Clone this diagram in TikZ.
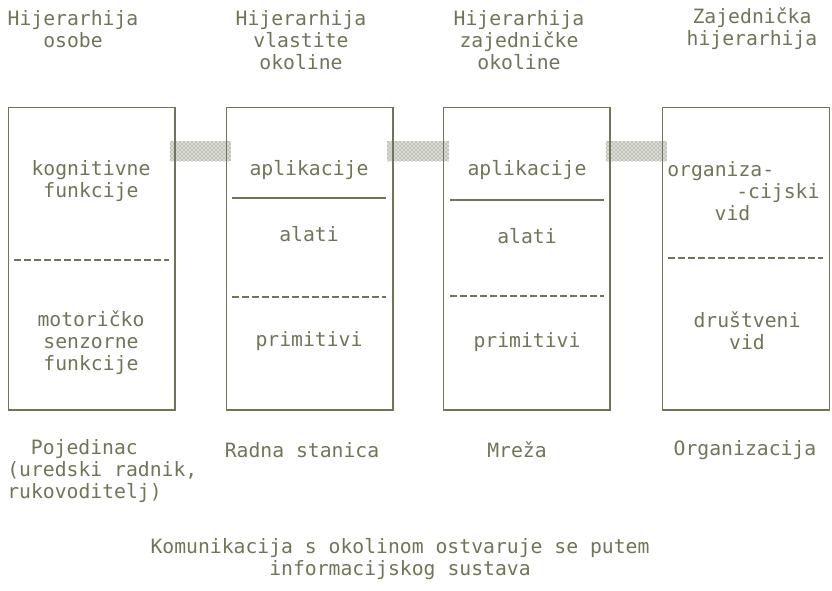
\documentclass[tikz,border=0pt]{standalone}
\usepackage{fontspec}
\newfontfamily\dotfont{DejaVu Sans Mono}
\newcommand\dm{\dotfont\fontsize{14.8}{16.5}\selectfont}
\usetikzlibrary{patterns, positioning}
\definecolor{ink}{RGB}{112,116,88}

\begin{document}
\begin{tikzpicture}[x=0.75pt, y=-0.75pt,
  level/.style={draw=ink, line width=1pt, minimum width=125pt, minimum height=227pt, inner sep=0pt},
  link/.style={preaction={fill=ink!25}, pattern=crosshatch dots, pattern color=ink, minimum width=46pt, minimum height=15pt, inner sep=0pt},
  txt/.style={text=ink, font=\dm, align=center, inner sep=0pt},
  sep/.style={draw=ink, line width=0.9pt},
  dsep/.style={sep, dash pattern=on 5pt off 2.5pt}
]
\useasboundingbox (0,0) rectangle (832,590);

% ---- veze izmedju razina ----
\node[link] (v1) at (200.5,151) {};
\node[link] (v2) at (418,151) {};
\node[link] (v3) at (636.5,151) {};

% ---- razine ----
\node[level] (osoba) at (91.5,258.5) {};
\node[level] (vlastita) at (309.5,258.5) {};
\node[level] (zajednicka) at (526.5,258.5) {};
\node[level] (organizacija) at (746,258.5) {};

% ---- naslovi ----
\node[txt] (t1) at (73,29) {Hijerarhija\\osobe};
\node[txt] (t2) at (301,40) {Hijerarhija\\vlastite\\okoline};
\node[txt] (t3) at (519,40) {Hijerarhija\\zajedničke\\okoline};
\node[txt] (t4) at (752,29) {Zajednička\\hijerarhija};

% ---- pojedinac ----
\node[txt] (kog) at (91,181) {kognitivne\\funkcije};
\draw[dsep] (14,260) -- (169,260);
\node[txt] (mot) at (91,343) {motoričko\\senzorne\\funkcije};

% ---- radna stanica ----
\node[txt] (apl1) at (309,170) {aplikacije};
\draw[sep] (232,198) -- (386,198);
\node[txt] (ala1) at (309,234) {alati};
\draw[dsep] (232,297) -- (386,297);
\node[txt] (pri1) at (309,341) {primitivi};

% ---- mreza ----
\node[txt] (apl2) at (527,170) {aplikacije};
\draw[sep] (450,200) -- (604,200);
\node[txt] (ala2) at (527,236) {alati};
\draw[dsep] (450,296) -- (604,296);
\node[txt] (pri2) at (527,342) {primitivi};

% ---- organizacija ----
\node[txt, align=left, anchor=west] (org) at (667,191) {organiza-\\\hspace*{3.5em}-cijski\\\hspace*{2.4em}vid};
\draw[dsep] (668,258) -- (823,258);
\node[txt] (drus) at (747,331) {društveni\\vid};

% ---- nazivi ispod ----
\node[txt, align=left, anchor=west] (b1) at (7,471) {\hspace*{1.2em}Pojedinac\\(uredski radnik,\\rukovoditelj)};
\node[txt] (b2) at (302,450) {Radna stanica};
\node[txt] (b3) at (517,450) {Mreža};
\node[txt] (b4) at (745,450) {Organizacija};

% ---- zakljucak ----
\node[txt] (kom) at (400,559.5) {Komunikacija s okolinom ostvaruje se putem\\informacijskog sustava};

\end{tikzpicture}
\end{document}
